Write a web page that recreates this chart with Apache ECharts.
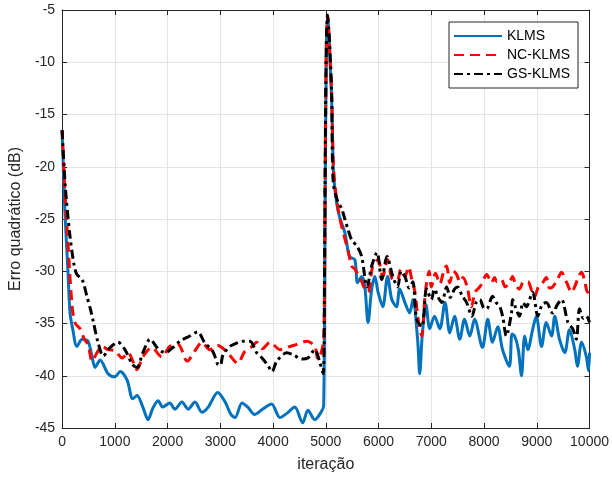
<!DOCTYPE html>
<html>
<head>
<meta charset="utf-8">
<script src="https://cdn.jsdelivr.net/npm/echarts@6/dist/echarts.min.js"></script>
<style>html,body{margin:0;padding:0;background:#fff;}#c{width:612px;height:481px;}</style>
</head>
<body>
<div id="c"></div>
<script>
const xTicks = [0,1000,2000,3000,4000,5000,6000,7000,8000,9000,10000];
const yTicks = [-45,-40,-35,-30,-25,-20,-15,-10,-5];
const seriesNames = ['KLMS','NC-KLMS','GS-KLMS'];

const klmsIter = [0,50,110,150,200,280,380,490,560,625,720,870,1000,1100,1230,1340,1420,1530,1630,1720,1820,1910,2040,2140,2270,2390,2520,2650,2770,2950,3090,3200,3280,3410,3520,3650,3800,3970,4130,4260,4410,4560,4660,4790,4920,4960,4985,5010,5035,5070,5110,5145,5200,5260,5360,5450,5550,5600,5680,5740,5800,5870,5930,5990,6080,6170,6250,6340,6400,6500,6590,6650,6740,6780,6830,6900,6970,7060,7160,7260,7350,7440,7540,7630,7730,7820,7970,8070,8160,8260,8350,8480,8530,8580,8650,8710,8770,8830,8920,8990,9090,9180,9280,9340,9430,9530,9620,9720,9770,9850,9940,9980,10000];
const klmsDb = [-16.5,-24,-30,-34,-35.5,-37.2,-36.5,-36.7,-38,-39.2,-38.5,-39.8,-40.1,-39.6,-40.4,-42.2,-41.9,-43,-44.2,-43.1,-42.4,-43,-42.6,-43.2,-42.5,-43.2,-42.5,-43.5,-43,-41.6,-42.5,-43.7,-44,-42.6,-43,-43.7,-43.2,-42.7,-44,-43.6,-43,-44.5,-43.3,-44.2,-43.4,-42.8,-25,-9,-5.5,-9,-13.5,-20.5,-23.3,-24.8,-26.3,-28.6,-28.9,-31.1,-30.5,-31.5,-34.9,-31.7,-30.5,-32,-33.4,-30.5,-32.7,-33.4,-31.7,-33,-34,-32.7,-36.5,-39.8,-36,-33.2,-35.5,-34.3,-35.5,-33,-35.9,-34.3,-36.5,-34.6,-36.2,-34.6,-37.3,-34.6,-36.8,-35.3,-37.5,-39.1,-36,-36.2,-37.5,-40,-36.2,-37.5,-35.6,-34.3,-37.2,-34.9,-36.2,-34.3,-36.5,-37.8,-35.6,-37.5,-39.1,-36.8,-38.2,-39.5,-37.8];

const ncIter = [0,50,95,190,250,340,420,490,570,660,760,870,1000,1140,1250,1420,1530,1700,1890,2040,2200,2370,2520,2650,2800,2950,3120,3330,3460,3600,3690,3800,3940,4130,4320,4450,4640,4790,4850,4900,4960,4985,5010,5035,5070,5110,5145,5200,5260,5340,5420,5490,5550,5620,5680,5740,5800,5890,5990,6080,6170,6270,6360,6420,6500,6570,6630,6690,6750,6820,6870,6910,6960,7000,7080,7160,7250,7290,7350,7420,7480,7540,7600,7680,7760,7830,7920,7990,8050,8140,8200,8240,8330,8400,8480,8540,8600,8670,8750,8830,8900,8960,9030,9110,9180,9240,9300,9390,9470,9560,9660,9740,9800,9850,9910,9960,10000];
const ncDb = [-16.5,-22,-26,-33.4,-35,-35.5,-36.5,-37,-38.6,-37.8,-37.2,-37.5,-37.6,-38.3,-37.8,-39.4,-38.2,-37.3,-38.2,-37.2,-37,-38.6,-37.6,-36.8,-37.5,-37.1,-37.7,-38.8,-37.7,-37.2,-36.8,-37.4,-36.8,-37.5,-37.2,-37,-36.7,-37.2,-38.4,-38,-36.5,-22,-8,-5.5,-8.5,-13,-20,-23,-24.8,-26.5,-28,-29.5,-29.8,-30.4,-31,-31.7,-32,-29.5,-28.9,-30.5,-28.9,-30.8,-30.8,-29.8,-30.5,-29.6,-30.8,-32,-34.6,-36.2,-33,-31.1,-30,-31.5,-30.2,-31.2,-29.7,-29.5,-31.1,-30,-30.3,-31,-30.6,-31.5,-33.4,-32,-31.5,-30.8,-30.3,-31.1,-30.6,-31,-30.8,-31.5,-31.1,-30.5,-31.3,-31.7,-31,-31,-31.8,-32.4,-31.5,-31.1,-30.6,-31.6,-31.5,-30.8,-30.1,-31,-32,-31.2,-30.4,-30.1,-31,-32,-31.5];

const gsIter = [0,60,150,230,280,380,470,540,590,680,780,910,1060,1190,1330,1420,1530,1670,1800,1950,2100,2230,2420,2570,2700,2860,2950,3000,3050,3180,3300,3430,3560,3690,3790,3900,3980,4070,4260,4380,4550,4660,4790,4890,4950,4975,5000,5030,5070,5110,5140,5230,5300,5360,5420,5490,5590,5680,5780,5870,5970,6060,6160,6270,6360,6430,6500,6580,6650,6720,6820,6910,7000,7060,7130,7200,7290,7360,7440,7500,7580,7670,7770,7850,7920,7990,8050,8160,8230,8300,8360,8420,8520,8540,8600,8670,8740,8800,8920,9020,9100,9180,9300,9390,9470,9590,9680,9750,9810,9880,9940,10000];
const gsDb = [-16.5,-21.9,-26.7,-29.5,-30.3,-30.8,-32.4,-33.7,-34.8,-36.8,-38.1,-37.3,-36.8,-37.5,-38.9,-39.2,-37.8,-36.5,-37.3,-37.8,-37.3,-36.7,-36.2,-35.8,-36.8,-37.7,-38.9,-39,-38,-37.2,-36.9,-36.7,-36.7,-37.8,-38.3,-39,-39.6,-38.6,-37.8,-38,-38.4,-38.3,-37.5,-38.8,-39.8,-30,-12,-5.5,-8,-13,-21.5,-23.4,-24,-25,-26,-27,-27.6,-28.6,-31.5,-29.5,-28.2,-30.8,-28.6,-30.5,-31.5,-30,-30.5,-31.6,-31,-34.6,-35.3,-31.7,-32.7,-31.7,-32.5,-33,-31.5,-32.5,-31.7,-31.5,-32.3,-33,-34.3,-33,-32.7,-33.5,-33.6,-32.4,-33,-33.4,-34.5,-36.2,-34,-32.7,-33.5,-34.3,-33,-33.4,-32,-34.3,-33.2,-33,-34,-33.2,-32.7,-34.9,-35.5,-36.5,-33.6,-34.5,-34.3,-34.9];

const pair = (xs, ys) => xs.map((x, i) => [x, ys[i]]);
const axisCol = '#262626';
const font = 'Liberation Sans, Arial, Helvetica, sans-serif';

const chart = echarts.init(document.getElementById('c'), null, {renderer: 'canvas'});
chart.setOption({
  animation: false,
  backgroundColor: '#fff',
  grid: {left: 62, right: 22, top: 10, bottom: 53, containLabel: false},
  legend: {
    orient: 'vertical',
    left: 449, top: 22,
    padding: [7, 8, 7, 4],
    itemGap: 5,
    itemWidth: 48, itemHeight: 14,
    backgroundColor: '#fff',
    borderColor: '#262626', borderWidth: 1,
    borderRadius: 0,
    itemStyle: {opacity: 0},
    textStyle: {fontFamily: font, fontSize: 14, color: '#000', padding: [0,0,0,0]},
    data: seriesNames
  },
  xAxis: [{
    type: 'value', min: 0, max: 10000, interval: 1000,
    name: 'iteração', nameLocation: 'middle', nameGap: 29,
    nameTextStyle: {fontFamily: font, fontSize: 16, color: axisCol},
    axisLine: {show: true, onZero: false, lineStyle: {color: axisCol, width: 1}},
    axisTick: {show: true, inside: true, length: 5, lineStyle: {color: axisCol}},
    axisLabel: {fontFamily: font, fontSize: 14, color: axisCol, margin: 7, formatter: v => String(v)},
    splitLine: {show: true, lineStyle: {color: '#e5e5e5', width: 1}}
  }, {
    type: 'value', min: 0, max: 10000, interval: 1000, position: 'top',
    axisLine: {show: true, onZero: false, lineStyle: {color: axisCol, width: 1}},
    axisTick: {show: true, inside: true, length: 5, lineStyle: {color: axisCol}},
    axisLabel: {show: false}, splitLine: {show: false}
  }],
  yAxis: [{
    type: 'value', min: -45, max: -5, interval: 5,
    name: 'Erro quadrático (dB)', nameLocation: 'middle', nameGap: 37,
    nameTextStyle: {fontFamily: font, fontSize: 16, color: axisCol},
    axisLine: {show: true, onZero: false, lineStyle: {color: axisCol, width: 1}},
    axisTick: {show: true, inside: true, length: 5, lineStyle: {color: axisCol}},
    axisLabel: {fontFamily: font, fontSize: 14, color: axisCol, margin: 7, formatter: v => String(v)},
    splitLine: {show: true, lineStyle: {color: '#e5e5e5', width: 1}}
  }, {
    type: 'value', min: -45, max: -5, interval: 5, position: 'right',
    axisLine: {show: true, onZero: false, lineStyle: {color: axisCol, width: 1}},
    axisTick: {show: true, inside: true, length: 5, lineStyle: {color: axisCol}},
    axisLabel: {show: false}, splitLine: {show: false}
  }],
  series: [
    {name: 'KLMS', type: 'line', data: pair(klmsIter, klmsDb), showSymbol: false, symbol: 'none', smooth: 0.3,
     lineStyle: {color: '#0072BD', width: 3}, itemStyle: {color: '#0072BD'}},
    {name: 'NC-KLMS', type: 'line', data: pair(ncIter, ncDb), showSymbol: false, symbol: 'none', smooth: 0.3,
     lineStyle: {color: '#FF0000', width: 3, type: [10, 6]}, itemStyle: {color: '#FF0000'}},
    {name: 'GS-KLMS', type: 'line', data: pair(gsIter, gsDb), showSymbol: false, symbol: 'none', smooth: 0.3,
     lineStyle: {color: '#000000', width: 3, type: [9, 4, 3, 4]}, itemStyle: {color: '#000000'}}
  ]
});
</script>
</body>
</html>
